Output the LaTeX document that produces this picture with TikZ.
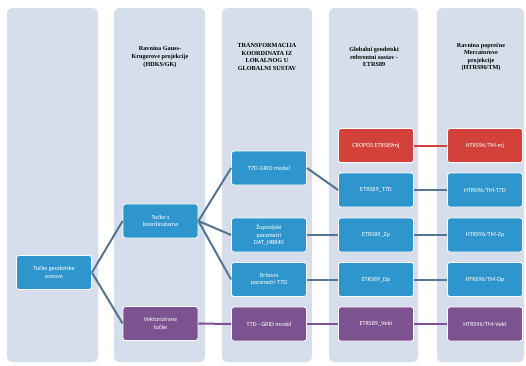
\documentclass[tikz,border=0pt]{standalone}
\usepackage{fontspec}
\setmainfont{Liberation Serif}
\newfontfamily\nodefont{Carlito}
\begin{document}
\begin{tikzpicture}[x=1pt,y=-1pt,
  colbg/.style={fill=bgcol,draw=none,rounded corners=5pt},
  hdr/.style={font=\fontsize{6.2}{7.6}\selectfont\bfseries,align=center,text=black},
  box/.style={draw=white,line width=0.8pt,rounded corners=2.5pt,minimum width=75pt,minimum height=34pt,inner sep=1pt,align=center,text=white,font=\nodefont\fontsize{6.2}{7.4}\selectfont},
  bluebox/.style={box,fill=nblue},
  purplebox/.style={box,fill=npurple},
  redbox/.style={box,fill=nred},
  conn/.style={draw=lcol,line width=2pt},
  pconn/.style={draw=npurple,line width=2pt},
  rconn/.style={draw=nred,line width=2pt}]
\definecolor{bgcol}{HTML}{D5DEEA}
\definecolor{nblue}{HTML}{2E96CC}
\definecolor{npurple}{HTML}{7D5290}
\definecolor{nred}{HTML}{D2423A}
\definecolor{lcol}{HTML}{56758F}
\useasboundingbox (0,0) rectangle (526,365);
\fill[white] (0,0) rectangle (526,365);
% columns
\path[colbg] (7,8) rectangle (98,362);
\path[colbg] (114,8) rectangle (205,362);
\path[colbg] (222,8) rectangle (312,362);
\path[colbg] (329,8) rectangle (418,362);
\path[colbg] (437,8) rectangle (524,362);
% headers
\node[hdr] (h2) at (160,57) {Ravnina Gauss-\\Krugerove projekcije\\(HDKS/GK)};
\node[hdr] (h3) at (267,57) {TRANSFORMACIJA\\KOORDINATA IZ\\LOKALNOG U\\GLOBALNI SUSTAV};
\node[hdr] (h4) at (374,57) {Globalni geodetski\\referentni sustav -\\ETRS89};
\node[hdr] (h5) at (481,57) {Ravnina poprečne\\Mercatorove\\projekcije\\(HTRS96/TM)};
% nodes
\node[bluebox] (osn) at (54,272.5) {Točke geodetske\\osnove};
\node[bluebox] (tk) at (160.5,221) {Točke s\\koordinatama};
\node[purplebox] (vt) at (160.5,323.5) {Vektorizirane\\točke};
\node[bluebox] (grid) at (269,168) {T7D-GRID model};
\node[bluebox] (zup) at (269,235) {Županijski\\parametri\\DAT\_HB840};
\node[bluebox] (drz) at (269,279.5) {Državni\\parametri T7D};
\node[purplebox] (vgrid) at (269,324) {T7D - GRID model};
\node[redbox] (crop) at (376,145.5) {CROPOS ETRS89mj};
\node[bluebox] (e1) at (376,190) {ETRS89\_T7D};
\node[bluebox] (e2) at (376,235) {ETRS89\_Zp};
\node[bluebox] (e3) at (376,279.5) {ETRS89\_Dp};
\node[purplebox] (e4) at (376,324) {ETRS89\_Vekt};
\node[redbox] (hmj) at (485,145.5) {HTRS96/TM-mj};
\node[bluebox] (h1) at (485,190) {HTRS96/TM-T7D};
\node[bluebox] (hz) at (485,235) {HTRS96/TM-Zp};
\node[bluebox] (hd) at (485,279.5) {HTRS96/TM-Dp};
\node[purplebox] (hv) at (485,324) {HTRS96/TM-Vekt};
% connectors
\draw[conn] (osn.east) -- (tk.west);
\draw[conn] (osn.east) -- (vt.west);
\draw[conn] (tk.east) -- (grid.west);
\draw[conn] (tk.east) -- (zup.west);
\draw[conn] (tk.east) -- (drz.west);
\draw[conn] (grid.east) -- (e1.west);
\draw[conn] (zup.east) -- (e2.west);
\draw[conn] (drz.east) -- (e3.west);
\draw[conn] (e1.east) -- (h1.west);
\draw[conn] (e2.east) -- (hz.west);
\draw[conn] (e3.east) -- (hd.west);
\draw[pconn] (vt.east) -- (vgrid.west);
\draw[pconn] (vgrid.east) -- (e4.west);
\draw[pconn] (e4.east) -- (hv.west);
\draw[rconn] (crop.east) -- (hmj.west);
\end{tikzpicture}
\end{document}
